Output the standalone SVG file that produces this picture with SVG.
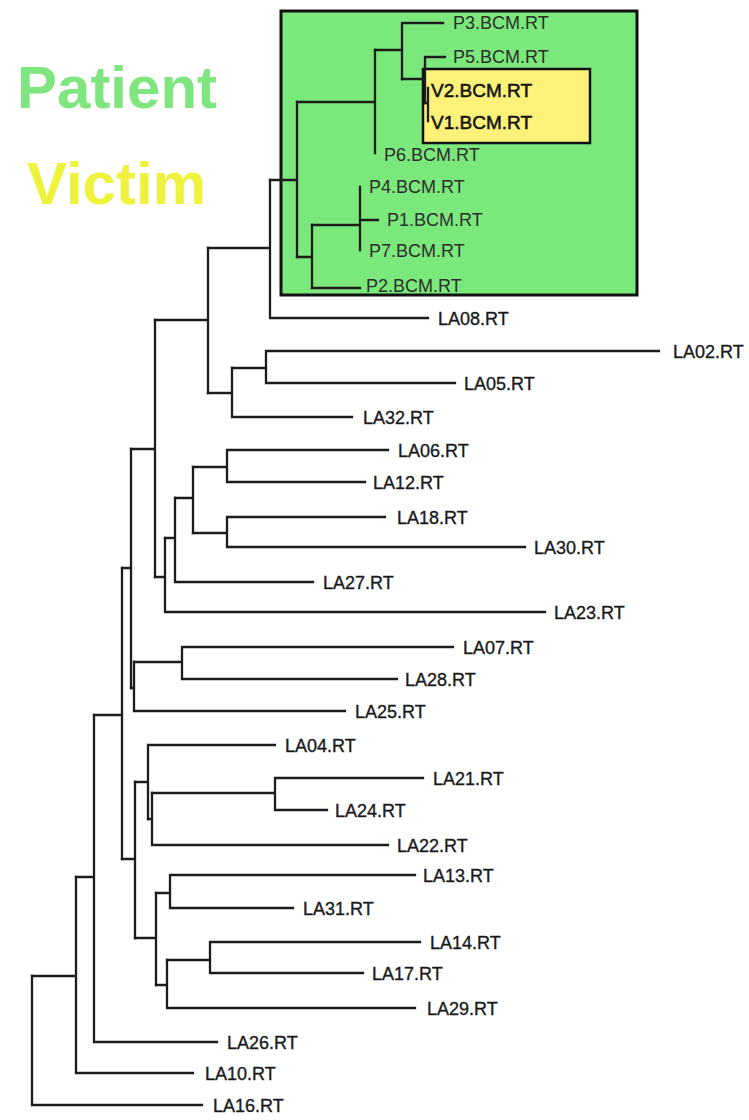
<svg xmlns="http://www.w3.org/2000/svg" width="749" height="1120" viewBox="0 0 749 1120">
<style>
.ln{fill:none;stroke:#1c1c1c;stroke-width:2.3;stroke-linecap:square}
.lb{font-family:"Liberation Sans",Arial,sans-serif;font-size:18px;fill:#1a1a1a;stroke:#1a1a1a;stroke-width:0.35}
.pl{font-family:"Liberation Sans",Arial,sans-serif;font-size:18px;fill:#2e2e2e}
.vl{font-family:"Liberation Sans",Arial,sans-serif;font-size:19px;fill:#111;stroke:#111;stroke-width:0.5}
.big{font-family:"Liberation Sans",Arial,sans-serif;font-size:60px;font-weight:bold}
</style>
<rect width="749" height="1120" fill="#ffffff"/>
<g id="legend">
<text class="big" x="17" y="108" fill="#7ee57f">Patient</text>
<text class="big" x="27" y="204" fill="#eef23c">Victim</text>
</g>
<g id="patient-box">
<rect x="281" y="11" width="356" height="284" fill="#7be87b" stroke="#111" stroke-width="3"/>
</g>
<g id="victim-box">
<rect x="423" y="69" width="167" height="74" fill="#fcf27a" stroke="#111" stroke-width="2.5"/>
</g>
<g id="connectors" class="ln">
<path d="M32 976V1105H202"/>
<path d="M32 976H76M76 877V1073H193"/>
<path d="M76 877H94M94 715V1042H217"/>
<path d="M94 715H122M122 568V859"/>
<path d="M122 568H131M131 449V688"/>
<path d="M131 688H134M134 662V711H345"/>
<path d="M134 662H182M182 647V679M182 647H453M182 679H397"/>
<path d="M122 859H135M135 782V938"/>
<path d="M135 782H148M148 745V819M148 745H275"/>
<path d="M148 819H152M152 793V845H388"/>
<path d="M152 793H275M275 778V810M275 778H423M275 810H327"/>
<path d="M135 938H156M156 893V985"/>
<path d="M156 893H170M170 875V908M170 875H415M170 908H293"/>
<path d="M156 985H167M167 960V1008H415"/>
<path d="M167 960H210M210 942V973M210 942H420M210 973H363"/>
<path d="M131 449H155M155 320V577"/>
<path d="M155 320H208M208 248V393"/>
<path d="M208 248H270M270 180V318H428"/>
<path d="M208 393H232M232 368V417H352"/>
<path d="M232 368H266M266 351V383M266 351H659M266 383H455"/>
<path d="M155 577H165M165 538V612H545"/>
<path d="M165 538H175M175 498V582H313"/>
<path d="M175 498H193M193 467V533"/>
<path d="M193 467H227M227 450V482M227 450H388M227 482H365"/>
<path d="M193 533H227M227 517V547M227 517H385M227 547H525"/>
<path d="M270 180H297M297 102V257"/>
<path d="M297 102H375M375 50V153"/>
<path d="M375 50H402M402 23V79M402 23H443"/>
<path d="M402 79H425M425 57V103M425 57H445"/>
<path d="M425 103H428M428 88V121"/>
<path d="M297 257H312M312 225V288H360"/>
<path d="M312 225H360M360 187V250M360 220H378"/>
</g>
<g id="P3"><text class="pl" x="453" y="29">P3.BCM.RT</text></g>
<g id="P5"><text class="pl" x="453" y="63">P5.BCM.RT</text></g>
<g id="V2"><text class="vl" x="431" y="97">V2.BCM.RT</text></g>
<g id="V1"><text class="vl" x="431" y="129">V1.BCM.RT</text></g>
<g id="P6"><text class="pl" x="384" y="161">P6.BCM.RT</text></g>
<g id="P4"><text class="pl" x="369" y="193">P4.BCM.RT</text></g>
<g id="P1"><text class="pl" x="387" y="226">P1.BCM.RT</text></g>
<g id="P7"><text class="pl" x="369" y="257">P7.BCM.RT</text></g>
<g id="P2"><text class="pl" x="366" y="292">P2.BCM.RT</text></g>
<g id="LA08"><text class="lb" x="438" y="325">LA08.RT</text></g>
<g id="LA02"><text class="lb" x="673" y="358">LA02.RT</text></g>
<g id="LA05"><text class="lb" x="464" y="390">LA05.RT</text></g>
<g id="LA32"><text class="lb" x="363" y="424">LA32.RT</text></g>
<g id="LA06"><text class="lb" x="398" y="457">LA06.RT</text></g>
<g id="LA12"><text class="lb" x="373" y="489">LA12.RT</text></g>
<g id="LA18"><text class="lb" x="397" y="524">LA18.RT</text></g>
<g id="LA30"><text class="lb" x="534" y="554">LA30.RT</text></g>
<g id="LA27"><text class="lb" x="323" y="589">LA27.RT</text></g>
<g id="LA23"><text class="lb" x="554" y="619">LA23.RT</text></g>
<g id="LA07"><text class="lb" x="463" y="654">LA07.RT</text></g>
<g id="LA28"><text class="lb" x="405" y="686">LA28.RT</text></g>
<g id="LA25"><text class="lb" x="355" y="718">LA25.RT</text></g>
<g id="LA04"><text class="lb" x="285" y="752">LA04.RT</text></g>
<g id="LA21"><text class="lb" x="433" y="785">LA21.RT</text></g>
<g id="LA24"><text class="lb" x="335" y="817">LA24.RT</text></g>
<g id="LA22"><text class="lb" x="397" y="852">LA22.RT</text></g>
<g id="LA13"><text class="lb" x="423" y="882">LA13.RT</text></g>
<g id="LA31"><text class="lb" x="303" y="915">LA31.RT</text></g>
<g id="LA14"><text class="lb" x="430" y="949">LA14.RT</text></g>
<g id="LA17"><text class="lb" x="372" y="980">LA17.RT</text></g>
<g id="LA29"><text class="lb" x="427" y="1015">LA29.RT</text></g>
<g id="LA26"><text class="lb" x="227" y="1049">LA26.RT</text></g>
<g id="LA10"><text class="lb" x="205" y="1080">LA10.RT</text></g>
<g id="LA16"><text class="lb" x="213" y="1112">LA16.RT</text></g>
</svg>
